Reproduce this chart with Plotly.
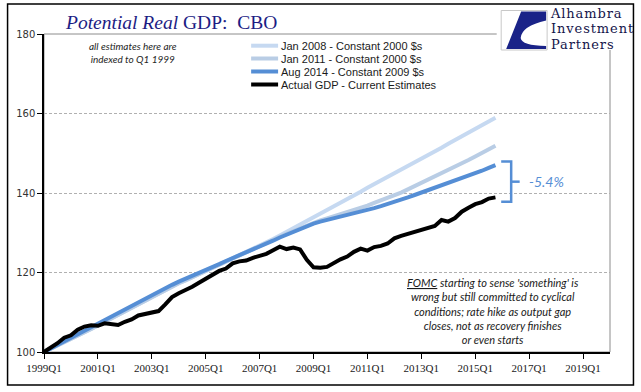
import plotly.graph_objects as go

# ---------------- data ----------------
quarters = [f"{y}Q{q}" for y in range(1999, 2021) for q in range(1, 5)]  # category axis
tick_labels = ["1999Q1", "2001Q1", "2003Q1", "2005Q1", "2007Q1", "2009Q1",
               "2011Q1", "2013Q1", "2015Q1", "2017Q1", "2019Q1"]

jan2008 = [100.0, 100.8, 101.6, 102.4, 103.2, 104.0, 104.9, 105.8, 106.7, 107.6,
           108.5, 109.4, 110.3, 111.2, 112.1, 113.0, 113.9, 114.8, 115.7, 116.5,
           117.3, 118.0, 118.8, 119.5, 120.2, 121.0, 121.8, 122.6, 123.4, 124.2,
           125.0, 125.8, 126.6, 127.5, 128.4, 129.3, 130.2, 131.1, 132.0, 132.9,
           133.9, 134.8, 135.7, 136.6, 137.6, 138.5, 139.4, 140.3, 141.3, 142.2,
           143.1, 144.0, 145.0, 145.9, 146.8, 147.7, 148.7, 149.6, 150.5, 151.4,
           152.4, 153.3, 154.2, 155.1, 156.1, 157.0, 157.9, 158.9]
jan2011 = [100.0, 100.8, 101.6, 102.4, 103.2, 104.0, 104.9, 105.8, 106.7, 107.6,
           108.5, 109.4, 110.3, 111.2, 112.1, 113.0, 113.9, 114.8, 115.7, 116.5,
           117.3, 118.0, 118.8, 119.5, 120.2, 121.0, 121.8, 122.6, 123.4, 124.2,
           125.0, 125.8, 126.6, 127.4, 128.2, 129.0, 129.7, 130.4, 131.1, 131.8,
           132.5, 133.1, 133.6, 134.1, 134.6, 135.1, 135.6, 136.2, 136.8, 137.5,
           138.1, 138.8, 139.4, 140.1, 140.9, 141.7, 142.5, 143.3, 144.1, 145.0,
           145.8, 146.7, 147.5, 148.3, 149.2, 150.1, 151.0, 151.9]
aug2014 = [100.0, 100.9, 101.8, 102.7, 103.6, 104.5, 105.4, 106.3, 107.2, 108.1,
           109.0, 109.9, 110.8, 111.7, 112.6, 113.5, 114.4, 115.3, 116.2, 116.9,
           117.7, 118.4, 119.2, 119.9, 120.6, 121.4, 122.1, 122.9, 123.6, 124.3,
           125.1, 125.8, 126.6, 127.3, 128.0, 128.8, 129.5, 130.3, 131.0, 131.7,
           132.3, 132.8, 133.2, 133.6, 134.0, 134.4, 134.8, 135.3, 135.7, 136.2,
           136.7, 137.2, 137.7, 138.3, 138.9, 139.5, 140.1, 140.7, 141.3, 141.8,
           142.4, 143.0, 143.6, 144.2, 144.9, 145.6, 146.3, 147.0]
actual = [100.0, 101.0, 102.2, 103.6, 104.2, 105.6, 106.4, 106.7, 106.6, 107.2,
          107.0, 106.8, 107.6, 108.2, 109.2, 109.6, 109.8, 110.3, 112.0, 113.8,
          114.8, 115.5, 116.4, 117.4, 118.4, 119.4, 120.4, 121.0, 122.3, 122.8,
          123.0, 123.7, 124.2, 124.7, 125.6, 126.5, 125.9, 126.3, 125.8, 123.2,
          121.3, 121.2, 121.4, 122.4, 123.3, 124.0, 125.2, 126.0, 125.5, 126.4,
          126.7, 127.3, 128.6, 129.2, 129.7, 130.0, 130.5, 131.2, 131.7, 133.2,
          132.8, 133.7, 135.3, 136.3, 137.2, 137.7, 138.6, 138.9]

series_names = ["Jan 2008 - Constant 2000 $s", "Jan 2011 - Constant 2000 $s",
                "Aug 2014 - Constant 2009 $s", "Actual GDP - Current Estimates"]
series_colors = ["#c6d9f1", "#b9cde5", "#558ed5", "#000000"]
gap_label = "-5.4%"

# ---------------- layout helpers (pixel -> paper) ----------------
W, H = 641, 392
PL, PR, PT, PB = 43.5, 610.5, 34, 352


def px(x):
    return (x - PL) / (PR - PL)


def py(y):
    return (PB - y) / (PB - PT)


fig = go.Figure()
for name, vals, col in zip(series_names, [jan2008, jan2011, aug2014, actual], series_colors):
    fig.add_trace(go.Scatter(x=quarters[:len(vals)], y=vals, mode="lines", name=name,
                             line=dict(color=col, width=4), showlegend=False))

shapes = []
annotations = []

# plot-area frame (top/right grey)
shapes.append(dict(type="rect", xref="paper", yref="paper", x0=0, x1=1, y0=0, y1=1,
                   line=dict(color="#8c8c8c", width=1), layer="below"))
# outer chart border
shapes.append(dict(type="rect", xref="paper", yref="paper",
                   x0=px(7), x1=px(634), y0=py(385), y1=py(4),
                   line=dict(color="#000000", width=1.5)))

# manual legend
leg_y = [45.7, 58.5, 71.5, 84.5]
for name, col, yy in zip(series_names, series_colors, leg_y):
    shapes.append(dict(type="line", xref="paper", yref="paper", x0=px(251), x1=px(278),
                       y0=py(yy), y1=py(yy), line=dict(color=col, width=4)))
    annotations.append(dict(xref="paper", yref="paper", x=px(279), y=py(yy), text=name,
                            showarrow=False, xanchor="left", yanchor="middle",
                            font=dict(family="Liberation Sans", size=11, color="#1a1a1a")))

# bracket showing the gap
y_top = aug2014[-1] + 0.9
y_bot = actual[-1] - 1.1
y_mid = (y_top + y_bot) / 2
shapes.append(dict(type="path", xref="paper", yref="y",
                   path=f"M {px(501.5)} {y_top} L {px(511.5)} {y_top} L {px(511.5)} {y_bot} L {px(501.5)} {y_bot}",
                   line=dict(color="#558ed5", width=2.5)))
shapes.append(dict(type="line", xref="paper", yref="y", x0=px(511.5), x1=px(520),
                   y0=y_mid, y1=y_mid, line=dict(color="#558ed5", width=2.5)))
annotations.append(dict(xref="paper", yref="y", x=px(527), y=y_mid, text="<i>" + gap_label + "</i>",
                        showarrow=False, xanchor="left", yanchor="middle",
                        font=dict(family="Lato", size=14, color="#558ed5")))

# logo background + mark
shapes.append(dict(type="rect", xref="paper", yref="paper", x0=px(497), x1=px(615),
                   y0=py(50), y1=py(8), fillcolor="white", line=dict(width=0)))
shapes.append(dict(type="rect", xref="paper", yref="paper", x0=px(501.5), x1=px(547.5),
                   y0=py(50), y1=py(10.5), fillcolor="white", line=dict(color="#c8c8c8", width=1)))
logo_pts = f"M {px(521.5)} {py(11.5)} L {px(546.5)} {py(11.5)} L {px(546.5)} {py(20.5)} " \
           f"Q {px(522)} {py(26)} {px(521)} {py(38)} Q {px(522)} {py(45.5)} {px(546.5)} {py(46)} " \
           f"L {px(546.5)} {py(49)} L {px(506.5)} {py(49)} Z"
shapes.append(dict(type="path", xref="paper", yref="paper", path=logo_pts,
                   fillcolor="#1a2388", line=dict(width=0)))
logo_lines = ["Alhambra", "Investment", "Partners"]
annotations.append(dict(xref="paper", yref="paper", x=px(548), y=py(29),
                        text="<br>".join(f"<span style='font-size:13px;letter-spacing:0.9px'>{t}</span>"
                                         for t in logo_lines),
                        showarrow=False, xanchor="left", yanchor="middle", align="left",
                        font=dict(family="DejaVu Serif", size=11.8, color="#14144a")))

# title
annotations.append(dict(xref="paper", yref="paper", x=px(171), y=py(22),
                        text="<i>Potential Real</i> GDP:\u00a0 CBO", showarrow=False,
                        xanchor="center", yanchor="middle",
                        font=dict(family="Liberation Serif", size=19.5, color="#1c1c84")))
# notes
annotations.append(dict(xref="paper", yref="paper", x=px(133), y=py(52),
                        text="<i>all estimates here are<br>indexed to Q1 1999</i>", showarrow=False,
                        xanchor="center", yanchor="middle", align="center",
                        font=dict(family="Lato", size=10, color="#262626")))
annotations.append(dict(xref="paper", yref="paper", x=px(493), y=py(311),
                        text="<i><u>FOMC</u> starting to sense 'something' is<br>wrong but still committed to cyclical<br>"
                             "conditions; rate hike as output gap<br>closes, not as recovery finishes<br>or even starts</i>",
                        showarrow=False, xanchor="center", yanchor="middle", align="center",
                        font=dict(family="Lato", size=11, color="#1a1a1a")))

fig.update_layout(
    width=W, height=H, autosize=False,
    margin=dict(l=PL, r=W - PR, t=PT, b=H - PB, pad=0),
    paper_bgcolor="white", plot_bgcolor="white",
    showlegend=False, shapes=shapes, annotations=annotations,
    xaxis=dict(type="category", categoryorder="array", categoryarray=quarters,
               range=[0, 84], tickmode="array", tickvals=tick_labels, ticktext=tick_labels,
               ticks="outside", ticklen=5, tickcolor="black", showline=True, linecolor="black",
               linewidth=1.5, showgrid=False, zeroline=False,
               tickfont=dict(family="Liberation Serif", size=11, color="#1a1a1a")),
    yaxis=dict(range=[100, 180], tickvals=[100, 120, 140, 160, 180], ticks="outside", ticklen=5,
               tickcolor="black", showline=True, linecolor="black", linewidth=1.5,
               showgrid=True, gridcolor="#b0b0b0", griddash="3px,2px", gridwidth=1, zeroline=False,
               tickfont=dict(family="DejaVu Sans", size=10, color="#333333")),
)

fig.write_html("out.html", config={"displayModeBar": False},
               post_script="document.body.style.margin='0';document.body.style.overflow='hidden';")
